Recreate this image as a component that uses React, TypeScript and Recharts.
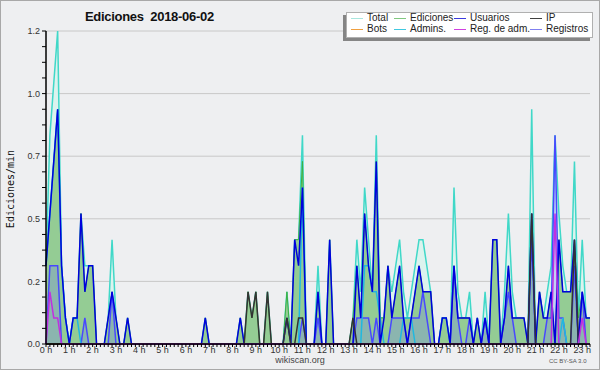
import React from "react";
import { ComposedChart, Area, Line, XAxis, YAxis, CartesianGrid } from "recharts";

// one value every 10 minutes, 0 h .. 23 h 20
const bins = Array.from({ length: 141 }, (_, i) => i);

const total = [
  0.3, 0.8, 1.0, 1.2, 0.3, 0.1, // 0 h
  0, 0.1, 0.1, 0.5, 0.3, 0.3,
  0.3, 0, 0, 0, 0.1, 0.4,
  0.1, 0, 0, 0.1, 0, 0,
  0, 0, 0, 0, 0, 0,
  0, 0, 0, 0, 0, 0,
  0, 0, 0, 0, 0, 0.1, // 6 h
  0, 0, 0, 0, 0, 0,
  0, 0, 0.1, 0, 0.2, 0.1,
  0.2, 0, 0, 0.2, 0, 0,
  0, 0, 0.2, 0, 0.4, 0.4,
  0.8, 0, 0, 0, 0.3, 0,
  0, 0.4, 0, 0, 0, 0, // 12 h
  0, 0.1, 0.4, 0.2, 0.6, 0.4,
  0.2, 0.8, 0.1, 0.1, 0.3, 0.2,
  0.3, 0.4, 0.2, 0.1, 0.2, 0.3,
  0.4, 0.4, 0.3, 0.2, 0, 0,
  0.1, 0.1, 0, 0.6, 0.2, 0.1,
  0.1, 0.2, 0, 0.1, 0, 0.2, // 18 h
  0, 0.4, 0.4, 0, 0.2, 0.5,
  0.2, 0.1, 0.1, 0.1, 0, 0.9,
  0, 0.2, 0.1, 0.2, 0.3, 0.8,
  0.5, 0.3, 0.2, 0.2, 0.7, 0.1,
  0.4, 0.1, 0.1,
];

const edits = [
  0.3, 0.5, 0.7, 0.9, 0.3, 0.1,
  0, 0.1, 0.1, 0.5, 0.2, 0.3,
  0.3, 0, 0, 0, 0.1, 0.2,
  0.1, 0, 0, 0.1, 0, 0,
  0, 0, 0, 0, 0, 0,
  0, 0, 0, 0, 0, 0,
  0, 0, 0, 0, 0, 0.1,
  0, 0, 0, 0, 0, 0,
  0, 0, 0.1, 0, 0.2, 0.1,
  0.2, 0, 0, 0.2, 0, 0,
  0, 0, 0.2, 0, 0.4, 0.4,
  0.7, 0, 0, 0, 0.2, 0,
  0, 0.4, 0, 0, 0, 0,
  0, 0.1, 0.3, 0.1, 0.5, 0.3,
  0.2, 0.7, 0.1, 0.1, 0.3, 0.1,
  0.2, 0.3, 0.1, 0.1, 0.1, 0.2,
  0.3, 0.2, 0.2, 0.2, 0, 0,
  0.1, 0.1, 0, 0.3, 0.1, 0.1,
  0.1, 0.1, 0, 0.1, 0, 0.1,
  0, 0.4, 0.4, 0, 0.1, 0.3,
  0.1, 0.1, 0.1, 0.1, 0, 0.5,
  0, 0.2, 0.1, 0.1, 0.2, 0,
  0.4, 0.2, 0.2, 0.2, 0.4, 0.1,
  0.2, 0.1, 0.1,
];

const users = [
  0.3, 0.5, 0.7, 0.9, 0.3, 0.1,
  0, 0.1, 0.1, 0.5, 0.2, 0.3,
  0.3, 0, 0, 0, 0.1, 0.2,
  0.1, 0, 0, 0.1, 0, 0,
  0, 0, 0, 0, 0, 0,
  0, 0, 0, 0, 0, 0,
  0, 0, 0, 0, 0, 0.1,
  0, 0, 0, 0, 0, 0,
  0, 0, 0.1, 0, 0, 0,
  0, 0, 0, 0, 0, 0,
  0, 0, 0.1, 0, 0.4, 0.3,
  0.6, 0, 0, 0, 0.2, 0,
  0, 0.4, 0, 0, 0, 0,
  0, 0, 0.3, 0.1, 0.5, 0.3,
  0.2, 0.7, 0, 0.1, 0.3, 0.1,
  0.2, 0.3, 0.1, 0, 0.1, 0.2,
  0.3, 0.2, 0.2, 0.2, 0, 0,
  0.1, 0.1, 0, 0.3, 0.1, 0.1,
  0.1, 0.1, 0, 0.1, 0, 0.1,
  0, 0.4, 0.4, 0, 0.1, 0.3,
  0.1, 0.1, 0.1, 0.1, 0, 0.5,
  0, 0.2, 0.1, 0.1, 0.2, 0,
  0.4, 0.2, 0.2, 0.2, 0.4, 0,
  0.2, 0.1, 0.1,
];

const ip = [
  0, 0, 0, 0, 0, 0,
  0, 0, 0, 0, 0, 0,
  0, 0, 0, 0, 0, 0,
  0, 0, 0, 0, 0, 0,
  0, 0, 0, 0, 0, 0,
  0, 0, 0, 0, 0, 0,
  0, 0, 0, 0, 0, 0,
  0, 0, 0, 0, 0, 0,
  0, 0, 0, 0, 0.2, 0.1,
  0.2, 0, 0, 0.2, 0, 0,
  0, 0, 0.1, 0, 0, 0.1,
  0.1, 0, 0, 0, 0, 0,
  0, 0, 0, 0, 0, 0,
  0, 0.1, 0, 0, 0, 0,
  0, 0, 0, 0, 0, 0,
  0, 0, 0, 0, 0, 0,
  0, 0, 0, 0, 0, 0,
  0, 0, 0, 0, 0, 0,
  0, 0, 0, 0, 0, 0,
  0, 0, 0, 0, 0, 0,
  0, 0, 0, 0, 0, 0.5,
  0, 0, 0, 0, 0, 0,
  0, 0, 0, 0, 0.4, 0,
  0, 0, 0,
];

const admins = [
  0.3, 0.5, 0.7, 0.9, 0.3, 0.1,
  0, 0.1, 0.1, 0, 0, 0,
  0, 0, 0, 0, 0, 0,
  0, 0, 0, 0, 0, 0,
  0, 0, 0, 0, 0, 0,
  0, 0, 0, 0, 0, 0,
  0, 0, 0, 0, 0, 0,
  0, 0, 0, 0, 0, 0,
  0, 0, 0, 0, 0, 0,
  0, 0, 0, 0, 0, 0,
  0, 0, 0, 0, 0, 0,
  0.6, 0, 0, 0, 0, 0,
  0, 0, 0, 0, 0, 0,
  0, 0, 0, 0, 0.3, 0.3,
  0.2, 0.2, 0.1, 0, 0, 0,
  0, 0, 0.1, 0.1, 0.1, 0,
  0, 0, 0, 0, 0, 0,
  0.1, 0.1, 0, 0, 0, 0,
  0, 0, 0, 0, 0, 0,
  0, 0, 0, 0, 0, 0,
  0, 0, 0, 0, 0, 0,
  0, 0, 0, 0, 0, 0,
  0, 0.1, 0, 0, 0, 0,
  0, 0, 0,
];

const adminLogs = [
  0, 0.2, 0.1, 0.1, 0, 0,
  0, 0, 0, 0, 0, 0,
  0, 0, 0, 0, 0, 0,
  0, 0, 0, 0, 0, 0,
  0, 0, 0, 0, 0, 0,
  0, 0, 0, 0, 0, 0,
  0, 0, 0, 0, 0, 0,
  0, 0, 0, 0, 0, 0,
  0, 0, 0, 0, 0, 0,
  0, 0, 0, 0, 0, 0,
  0, 0, 0, 0, 0, 0,
  0, 0, 0, 0, 0, 0,
  0, 0, 0, 0, 0, 0,
  0, 0, 0, 0, 0, 0,
  0, 0, 0, 0, 0, 0,
  0, 0, 0, 0, 0, 0,
  0, 0, 0, 0, 0, 0,
  0, 0, 0, 0, 0, 0,
  0, 0, 0, 0, 0, 0,
  0, 0, 0, 0, 0, 0,
  0, 0, 0, 0, 0, 0,
  0, 0, 0, 0, 0, 0.5,
  0, 0, 0, 0, 0, 0,
  0.1, 0, 0,
];

const logs = [
  0, 0.3, 0.3, 0.3, 0, 0,
  0, 0, 0, 0, 0.1, 0,
  0, 0, 0, 0, 0, 0.2,
  0, 0, 0, 0, 0, 0,
  0, 0, 0, 0, 0, 0,
  0, 0, 0, 0, 0, 0,
  0, 0, 0, 0, 0, 0,
  0, 0, 0, 0, 0, 0,
  0, 0, 0, 0, 0, 0,
  0, 0, 0, 0, 0, 0,
  0, 0, 0, 0, 0, 0,
  0.1, 0, 0, 0, 0.1, 0,
  0, 0, 0, 0, 0, 0,
  0, 0, 0.1, 0.1, 0.1, 0.1,
  0, 0.1, 0, 0, 0, 0.1,
  0.1, 0.1, 0.1, 0, 0.1, 0.1,
  0.1, 0.2, 0.1, 0, 0, 0,
  0, 0, 0, 0.3, 0.1, 0,
  0, 0.1, 0, 0, 0, 0.1,
  0, 0, 0, 0, 0.1, 0.2,
  0.1, 0, 0, 0, 0, 0.4,
  0, 0, 0, 0.1, 0.1, 0.8,
  0.1, 0.1, 0, 0, 0.3, 0,
  0.2, 0, 0,
];

const bots = bins.map(() => 0);

const yTicks = Array.from({ length: 21 }, (_, i) => Math.round(i * 6) / 100);
const yGrid = [0.24, 0.48, 0.72, 0.96, 1.2];

const legendItems = [
  { name: "Total", color: "#a8e6de", col: 0, row: 0 },
  { name: "Ediciones", color: "#80c880", col: 1, row: 0 },
  { name: "Usuarios", color: "#3a3ae0", col: 2, row: 0 },
  { name: "IP", color: "#404040", col: 3, row: 0 },
  { name: "Bots", color: "#f0a040", col: 0, row: 1 },
  { name: "Admins.", color: "#40c8e0", col: 1, row: 1 },
  { name: "Reg. de adm.", color: "#d040e0", col: 2, row: 1 },
  { name: "Registros", color: "#8080f0", col: 3, row: 1 },
];
const legendCols = [4, 47, 107, 183];

const data = bins.map((bin) => ({
  bin,
  total: total[bin],
  edits: edits[bin],
  users: users[bin],
  ip: ip[bin],
  bots: bots[bin],
  admins: admins[bin],
  adminLogs: adminLogs[bin],
  logs: logs[bin],
}));

const font = '"Liberation Sans", Arial, sans-serif';

export default function App() {
  return (
    <div style={{ position: "absolute", left: 0, top: 0, width: 600, height: 370, background: "#eeeff1", fontFamily: font }}>
      <ComposedChart
        width={600}
        height={370}
        data={data}
        margin={{ top: 31, right: 10, bottom: 6, left: 0 }}
        style={{ fontFamily: font }}
      >
        <CartesianGrid vertical={false} horizontalValues={yGrid} stroke="#c8c8c8" />
        <Area type="linear" dataKey="total" stroke="#40d8c8" strokeWidth={1.5} fill="#dcf3ee" fillOpacity={1} isAnimationActive={false} />
        <Area type="linear" dataKey="edits" stroke="#3cb043" strokeWidth={1} fill="#94cc94" fillOpacity={1} isAnimationActive={false} />
        <Area type="linear" dataKey="logs" stroke="#4848ff" strokeWidth={1.5} fill="#7070ff" fillOpacity={0.25} isAnimationActive={false} />
        <Line type="linear" dataKey="bots" stroke="#f0a040" strokeWidth={1} dot={false} isAnimationActive={false} />
        <Line type="linear" dataKey="admins" stroke="#20b8e0" strokeWidth={1.5} dot={false} isAnimationActive={false} />
        <Line type="linear" dataKey="users" stroke="#0000dd" strokeWidth={1.5} dot={false} isAnimationActive={false} />
        <Line type="linear" dataKey="ip" stroke="#333333" strokeWidth={1.5} dot={false} isAnimationActive={false} />
        <Line type="linear" dataKey="adminLogs" stroke="#c030e0" strokeWidth={1.5} dot={false} isAnimationActive={false} />
        <XAxis
          dataKey="bin"
          type="number"
          domain={[0, 140]}
          ticks={bins}
          interval={0}
          height={20}
          tickSize={3}
          tickMargin={0}
          tickFormatter={(v: number) => (v % 6 === 0 ? `${v / 6} h` : "")}
          tick={{ fontSize: 9, fill: "#333" }}
          axisLine={{ stroke: "#000", strokeWidth: 1.5 }}
          tickLine={{ stroke: "#000" }}
        />
        <YAxis
          type="number"
          domain={[0, 1.2]}
          ticks={yTicks}
          interval={0}
          width={46}
          tickSize={4}
          tickFormatter={(v: number) => (Math.round(v / 0.06) % 4 === 0 ? v.toFixed(1) : "")}
          tick={{ fontSize: 9, fill: "#333" }}
          axisLine={{ stroke: "#000", strokeWidth: 1.5 }}
          tickLine={{ stroke: "#000" }}
        />
      </ComposedChart>

      <div style={{ position: "absolute", left: 85, top: 9, fontSize: 13, fontWeight: "bold", color: "#111", whiteSpace: "pre", letterSpacing: -0.3 }}>
        {"Ediciones  2018-06-02"}
      </div>

      <div
        style={{
          position: "absolute",
          left: 10,
          top: 189,
          transform: "translate(-50%, -50%) rotate(-90deg)",
          fontFamily: '"DejaVu Sans Mono", monospace',
          fontSize: 10,
          color: "#111",
          whiteSpace: "nowrap",
        }}
      >
        Ediciones/min
      </div>

      <div
        style={{
          position: "absolute",
          left: 346,
          top: 12,
          width: 245,
          height: 24,
          background: "#fff",
          border: "1px solid #b0b0b0",
          boxShadow: "-3px 3px 0 #858585",
        }}
      >
        {legendItems.map((it) => (
          <div key={it.name}>
            <div
              style={{
                position: "absolute",
                left: legendCols[it.col],
                top: it.row === 0 ? 5 : 16,
                width: 12,
                height: 1,
                background: it.color,
              }}
            />
            <div
              style={{
                position: "absolute",
                left: legendCols[it.col] + 16,
                top: it.row === 0 ? -1 : 10,
                fontSize: 10,
                lineHeight: "12px",
                color: "#222",
                whiteSpace: "nowrap",
              }}
            >
              {it.name}
            </div>
          </div>
        ))}
      </div>

      <div style={{ position: "absolute", left: 0, width: 600, top: 355, textAlign: "center", fontSize: 9, color: "#444" }}>
        wikiscan.org
      </div>
      <div style={{ position: "absolute", left: 549, top: 358, fontSize: 6, color: "#555", whiteSpace: "nowrap" }}>
        CC BY-SA 3.0
      </div>
      <div style={{ position: "absolute", left: 0, top: 0, width: 598, height: 368, border: "1px solid #a8a8a8", pointerEvents: "none" }} />
    </div>
  );
}
